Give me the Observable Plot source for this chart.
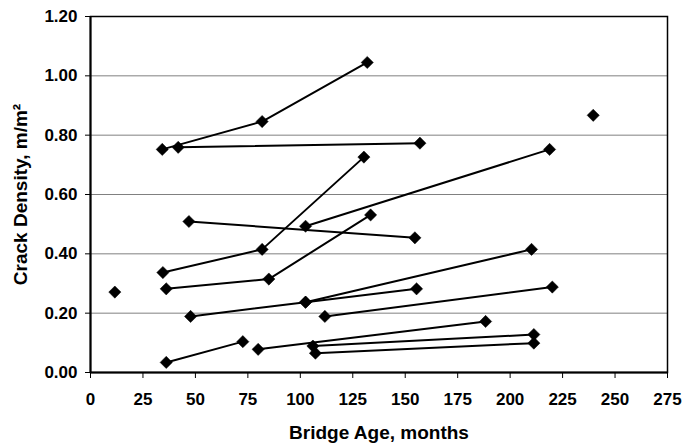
<!DOCTYPE html>
<html>
<head>
<meta charset="utf-8">
<script src="https://cdn.jsdelivr.net/npm/d3@7"></script>
<script src="https://cdn.jsdelivr.net/npm/@observablehq/plot@0.6"></script>
<style>
  html, body { margin: 0; padding: 0; background: #fff; }
</style>
</head>
<body>
<div id="chart"></div>
<script>
// Bridge id for each observation (points of the same bridge are joined)
const bridge = [
  "S1","S1","S1",
  "S2","S2",
  "S3","S3","S3",
  "S4","S4",
  "S5","S5",
  "S6","S6","S6",
  "S7","S7","S7",
  "S8","S8",
  "S9","S9",
  "S10","S10",
  "S11","S11",
  "S12","S12",
  "S13","S13",
  "S14",
  "S15"
];
// Bridge age, months
const ageMonths = [
  34.2, 81.8, 131.9,
  41.8, 157.0,
  34.5, 81.8, 130.3,
  46.9, 154.6,
  102.5, 218.8,
  36.1, 85.0, 133.5,
  47.7, 102.5, 210.2,
  102.5, 155.4,
  111.7, 220.1,
  36.1, 72.6,
  79.9, 188.3,
  106.0, 211.3,
  107.2, 211.3,
  11.6,
  239.6
];
// Crack density, m/m2
const crackDensity = [
  0.752, 0.846, 1.045,
  0.759, 0.773,
  0.337, 0.415, 0.726,
  0.509, 0.454,
  0.493, 0.752,
  0.282, 0.315, 0.531,
  0.189, 0.237, 0.415,
  0.237, 0.282,
  0.189, 0.288,
  0.034, 0.104,
  0.078, 0.172,
  0.089, 0.128,
  0.065, 0.099,
  0.271,
  0.867
];
const xTicks = [0, 25, 50, 75, 100, 125, 150, 175, 200, 225, 250, 275];
const yTicks = [0, 0.2, 0.4, 0.6, 0.8, 1.0, 1.2];
const xTitle = "Bridge Age, months";
const yTitle = "Crack Density, m/m²";

const data = bridge.map((b, i) => ({bridge: b, age: ageMonths[i], density: crackDensity[i]}));

const chart = Plot.plot({
  width: 683,
  height: 446,
  marginLeft: 90,
  marginRight: 16,
  marginTop: 16,
  marginBottom: 74,
  style: {
    fontFamily: "'Liberation Sans', Arial, sans-serif",
    fontWeight: "bold",
    fontSize: "17px",
    color: "#000",
    background: "#fff"
  },
  x: {
    domain: [0, 275],
    ticks: xTicks,
    tickSize: 6,
    tickPadding: 14,
    label: null
  },
  y: {
    domain: [0, 1.2],
    ticks: yTicks,
    tickFormat: d => d.toFixed(2),
    tickSize: 5,
    tickPadding: 8,
    label: null
  },
  marks: [
    Plot.ruleY(yTicks.filter(v => v > 0 && v < 1.2), {stroke: "#808080", strokeWidth: 1}),
    Plot.frame({stroke: "#000", strokeWidth: 1.5}),
    Plot.ruleX([0], {stroke: "#000", strokeWidth: 2}),
    Plot.ruleY([0], {stroke: "#000", strokeWidth: 2}),
    Plot.line(data, {x: "age", y: "density", z: "bridge", stroke: "#000", strokeWidth: 2}),
    Plot.dot(data, {x: "age", y: "density", symbol: "diamond2", r: 5.5, fill: "#000", stroke: "#000", strokeWidth: 0.5}),
    Plot.text([xTitle], {text: d => d, frameAnchor: "bottom", lineAnchor: "middle", dy: 60, fontSize: 19, fontWeight: "bold", fill: "#000"}),
    Plot.text([yTitle], {text: d => d, frameAnchor: "left", textAnchor: "middle", lineAnchor: "middle", dx: -70, rotate: -90, fontSize: 19, fontWeight: "bold", fill: "#000"})
  ]
});
document.getElementById("chart").appendChild(chart);
</script>
</body>
</html>
